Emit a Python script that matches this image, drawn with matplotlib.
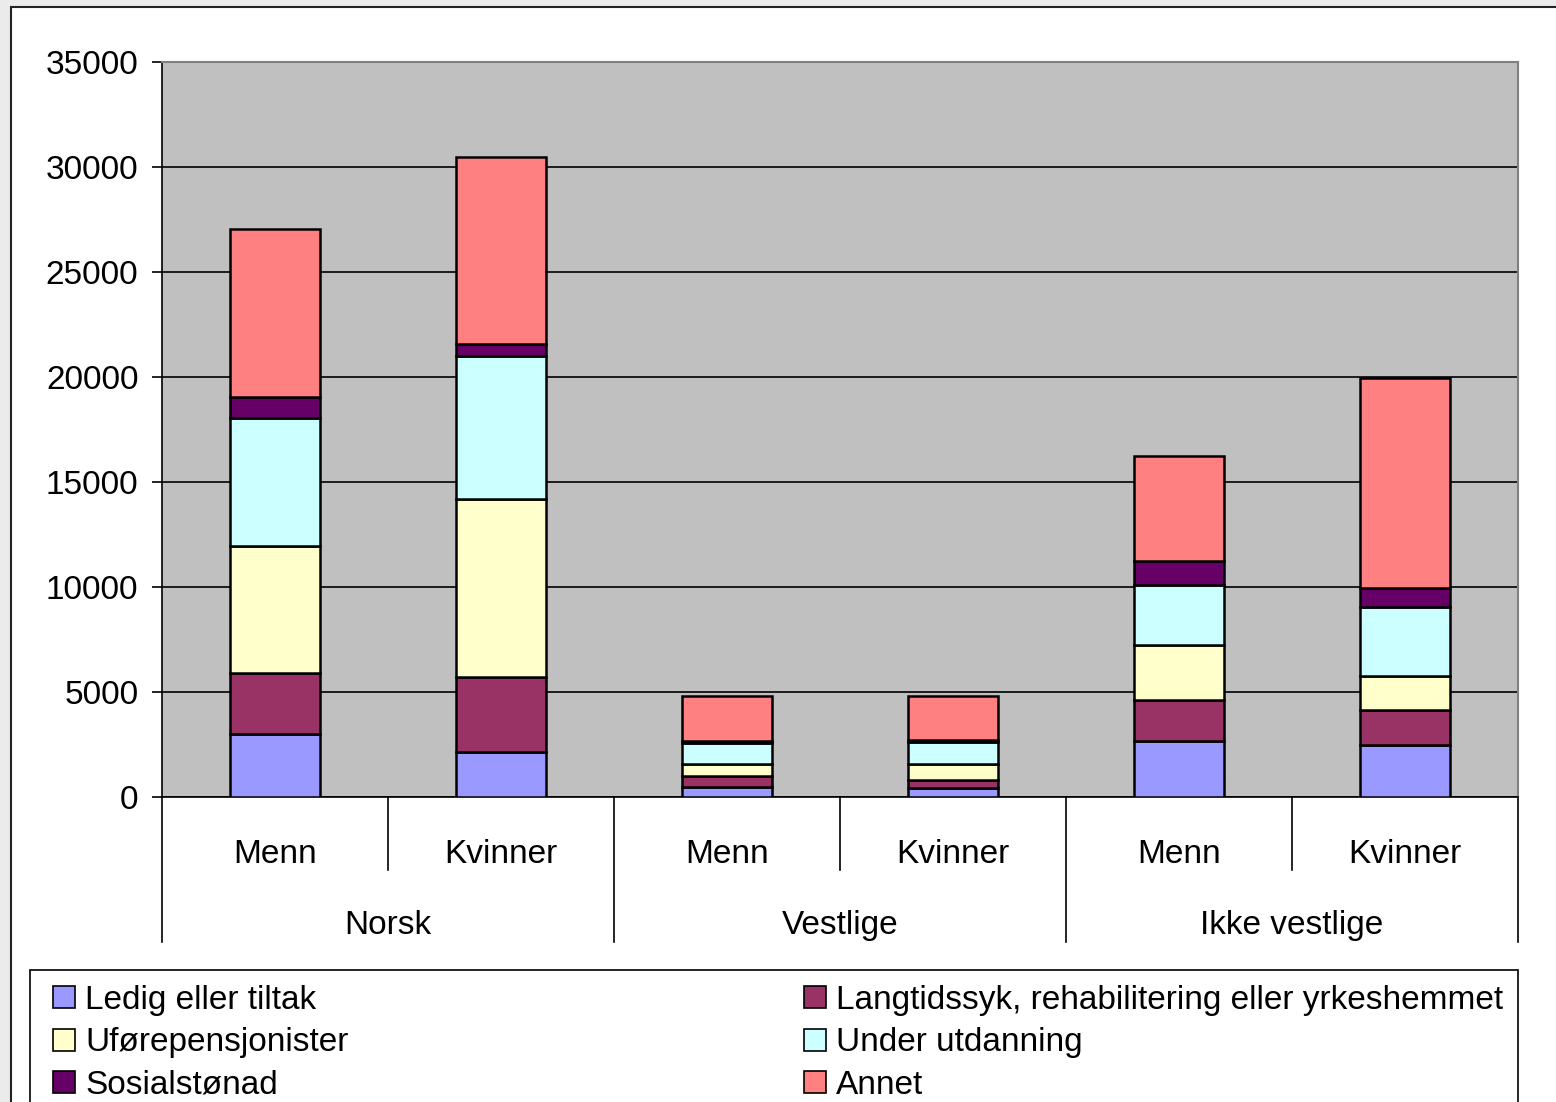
import matplotlib.pyplot as plt
import matplotlib.transforms as mtransforms
from matplotlib.lines import Line2D
from matplotlib.patches import Rectangle

plt.rcParams['font.family'] = ['Liberation Sans', 'DejaVu Sans']

# data: persons by status, per origin group and sex
groups = ['Norsk', 'Vestlige', 'Ikke vestlige']
sexes = ['Menn', 'Kvinner']
series_names = ['Ledig eller tiltak',
                'Langtidssyk, rehabilitering eller yrkeshemmet',
                'Uførepensjonister', 'Under utdanning', 'Sosialstønad', 'Annet']
colors = ['#9999ff', '#993366', '#ffffcc', '#ccffff', '#660066', '#ff8080']

ledig = [3000, 2150, 490, 440, 2650, 2460]
langtid = [2900, 3580, 525, 380, 1985, 1670]
ufor = [6050, 8450, 570, 750, 2590, 1650]
utdanning = [6100, 6820, 970, 1050, 2860, 3290]
sosial = [1000, 580, 110, 80, 1160, 900]
annet = [8000, 8900, 2140, 2110, 5010, 9990]
series = [ledig, langtid, ufor, utdanning, sosial, annet]

W, H = 1556, 1102
fig = plt.figure(figsize=(W / 100, H / 100), dpi=100, facecolor='#ebebeb')

# white chart sheet with a dark border
fig.patches.append(Rectangle((11 / W, -0.1), 1.2, 1 - 7 / H + 0.1,
                             transform=fig.transFigure, facecolor='white',
                             edgecolor='#222222', lw=1.5, zorder=-1))

ax = fig.add_axes([162 / W, 1 - 797 / H, (1518 - 162) / W, (797 - 62) / H])
ax.set_facecolor('#c0c0c0')

x = list(range(len(groups) * len(sexes)))
bottom = [0] * len(x)
for vals, name, col in zip(series, series_names, colors):
    ax.bar(x, vals, width=0.4, bottom=bottom, color=col, edgecolor='black',
           linewidth=1.8, label=name, zorder=3)
    bottom = [b + v for b, v in zip(bottom, vals)]

ax.set_xlim(-0.5, len(x) - 0.5)
ax.set_ylim(0, 35000)
ax.set_yticks(range(0, 35001, 5000))
ax.tick_params(axis='y', labelsize=24, length=7, width=1.2, pad=10)
ax.set_xticks([])
ax.grid(axis='y', color='black', lw=1.2, zorder=0)
ax.set_axisbelow(True)
for s in ['top', 'right']:
    ax.spines[s].set_color('#808080')
    ax.spines[s].set_linewidth(1.5)
for s in ['left', 'bottom']:
    ax.spines[s].set_color('black')
    ax.spines[s].set_linewidth(1.2)

# two-level category axis
trans = mtransforms.blended_transform_factory(ax.transData, ax.transAxes)
for i in range(len(x)):
    ax.text(i, -0.078, sexes[i % 2], transform=trans, ha='center',
            va='center', fontsize=24)
for g, name in enumerate(groups):
    ax.text(2 * g + 0.5, -0.175, name, transform=trans, ha='center',
            va='center', fontsize=24)
for g in range(len(groups) + 1):
    ax.plot([2 * g - 0.5] * 2, [0, -0.197], transform=trans, color='black',
            lw=1.2, clip_on=False)
for g in range(len(groups)):
    ax.plot([2 * g + 0.5] * 2, [0, -0.0993], transform=trans, color='black',
            lw=1.2, clip_on=False)

# legend, filled row by row in two columns
handles = [Line2D([], [], marker='s', ls='none', markersize=15.5,
                  markerfacecolor=c, markeredgecolor='black',
                  markeredgewidth=1.2) for c in colors]
order = [0, 2, 4, 1, 3, 5]
fig.legend([handles[i] for i in order], [series_names[i] for i in order],
           loc='upper left', ncol=2, mode='expand',
           bbox_to_anchor=(30 / W, 0, (1518 - 30) / W, 1 - 970 / H),
           fontsize=24, frameon=True, fancybox=False, edgecolor='black',
           framealpha=1, borderpad=0.45, borderaxespad=0, handlelength=1.15,
           handletextpad=0.06, labelspacing=0.34, columnspacing=1.0)
fig.legends[0].get_frame().set_linewidth(1.2)

fig.savefig('out.png', dpi=100)
